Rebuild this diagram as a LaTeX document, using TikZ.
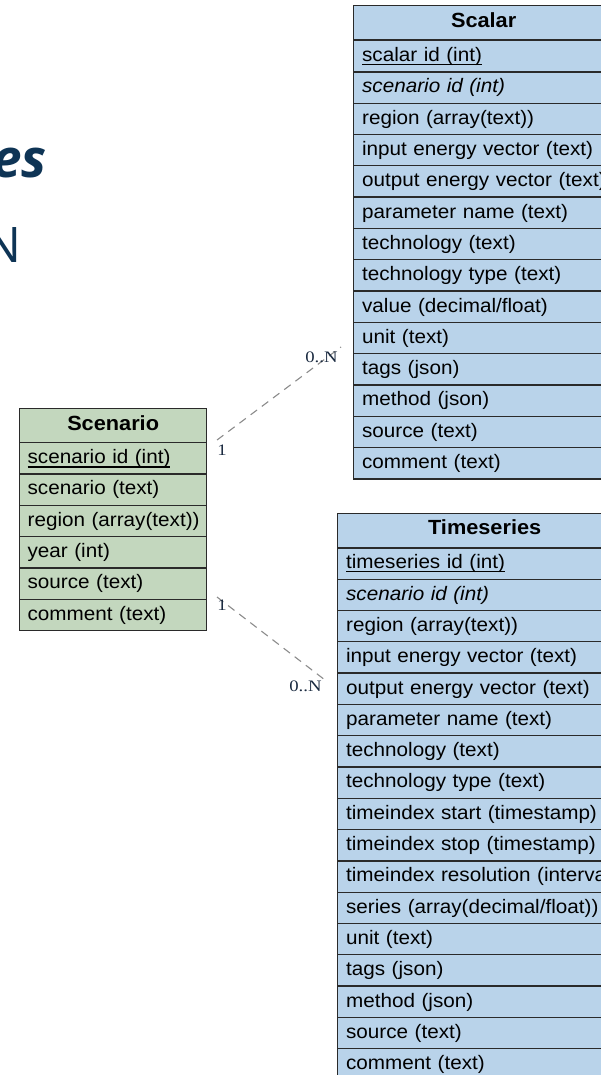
\documentclass[tikz,border=0pt]{standalone}
\usepackage{fontspec}
\setmainfont{Liberation Sans}[FakeStretch=1.06]
\newfontfamily\lblfont{Liberation Serif}[FakeStretch=1.17]
\newfontfamily\titlefont{Open Sans}
\definecolor{tblue}{HTML}{B9D3EA}
\definecolor{tgreen}{HTML}{C3D7BE}
\definecolor{navy}{HTML}{0E3455}
\definecolor{bord}{HTML}{2A2A2A}
\definecolor{conng}{HTML}{8C8C8C}
\definecolor{lblc}{HTML}{1A2A40}
\newcommand\rowfnt{\fontsize{19.5}{22}\selectfont}
\newcommand\hdrfnt{\bfseries\fontsize{20.5}{23}\selectfont}
\newcommand\pkline[3]{\leavevmode\setbox0=\hbox{#3}\copy0\kern-\wd0\raisebox{#2}{\rule{\wd0}{#1}}}
\newcommand\pkthin[1]{\pkline{1.3pt}{-3.2pt}{#1}}
\newcommand\pkthick[1]{\pkline{2.4pt}{-4.5pt}{#1}}
\begin{document}
\begin{tikzpicture}[x=1pt,y=-1pt,
  cell/.style={draw=bord, line width=1.3pt, fill=#1, anchor=north west,
    inner xsep=8.5pt, inner ysep=0pt, text height=14pt, text depth=3.3pt,
    minimum height=31.3pt, align=left, font=\rowfnt},
  hdr/.style={draw=bord, line width=1.3pt, fill=#1, anchor=north west,
    inner xsep=4pt, inner ysep=0pt, text height=13pt, text depth=4.5pt,
    minimum height=34.5pt, align=center, font=\hdrfnt},
  conn/.style={draw=conng, line width=1.1pt, dash pattern=on 8pt off 6pt},
  lbl/.style={text=lblc, inner sep=0pt, font=\lblfont\fontsize{16}{18}\selectfont},
  ttl/.style={text=navy, inner sep=0pt, anchor=base east}]
\useasboundingbox (0,0) rectangle (601,1075);
\fill[white] (0,0) rectangle (601,1075);
\clip (0,0) rectangle (601,1075);

% title fragments
\node[ttl, font=\titlefont\bfseries\itshape\fontsize{53}{58}\selectfont] (t1) at (47,178) {es};
\node[ttl, font=\titlefont\fontsize{49}{54}\selectfont] (t2) at (22,262) {N};

% Scalar
\node[hdr=tblue, text width=252pt] (scH) at (353,5) {Scalar};
\foreach \t [count=\i] in {{\pkthin{scalar id (int)}},{\textit{scenario id (int)}},{region (array(text))},{input energy vector (text)},{output energy vector (text)},{parameter name (text)},{technology (text)},{technology type (text)},{value (decimal/float)},{unit (text)},{tags (json)},{method (json)},{source (text)},{comment (text)}}
  \node[cell=tblue, text width=243pt] (sc\i) at (353,{8.7+31.3*\i}) {\mbox{\t}};

% Timeseries
\node[hdr=tblue, text width=286pt] (tsH) at (337,512.7) {Timeseries};
\foreach \t [count=\i] in {{\pkthin{timeseries id (int)}},{\textit{scenario id (int)}},{region (array(text))},{input energy vector (text)},{output energy vector (text)},{parameter name (text)},{technology (text)},{technology type (text)},{timeindex start (timestamp)},{timeindex stop (timestamp)},{timeindex resolution (interval)},{series (array(decimal/float))},{unit (text)},{tags (json)},{method (json)},{source (text)},{comment (text)}}
  \node[cell=tblue, text width=277pt] (ts\i) at (337,{515.9+31.3*\i}) {\mbox{\t}};

% Scenario
\node[hdr=tgreen, text width=179pt] (snH) at (19,408) {Scenario};
\foreach \t [count=\i] in {{\pkthick{scenario id (int)}},{scenario (text)},{region (array(text))},{year (int)},{source (text)},{comment (text)}}
  \node[cell=tgreen, inner xsep=8pt, text width=171pt] (sn\i) at (19,{410.7+31.3*\i}) {\mbox{\t}};

% connectors
\coordinate (c1a) at (217,440);
\coordinate (c1b) at (341,347);
\draw[conn] (c1a) -- (c1b);
\node[lbl] (m1a) at (222,450) {1};
\node[lbl] (m1b) at (321.5,357) {0..N};

\coordinate (c2a) at (217,597);
\coordinate (c2b) at (325,680);
\draw[conn] (c2a) -- (c2b);
\node[lbl] (m2a) at (222,605) {1};
\node[lbl] (m2b) at (305.5,686) {0..N};
\end{tikzpicture}
\end{document}
